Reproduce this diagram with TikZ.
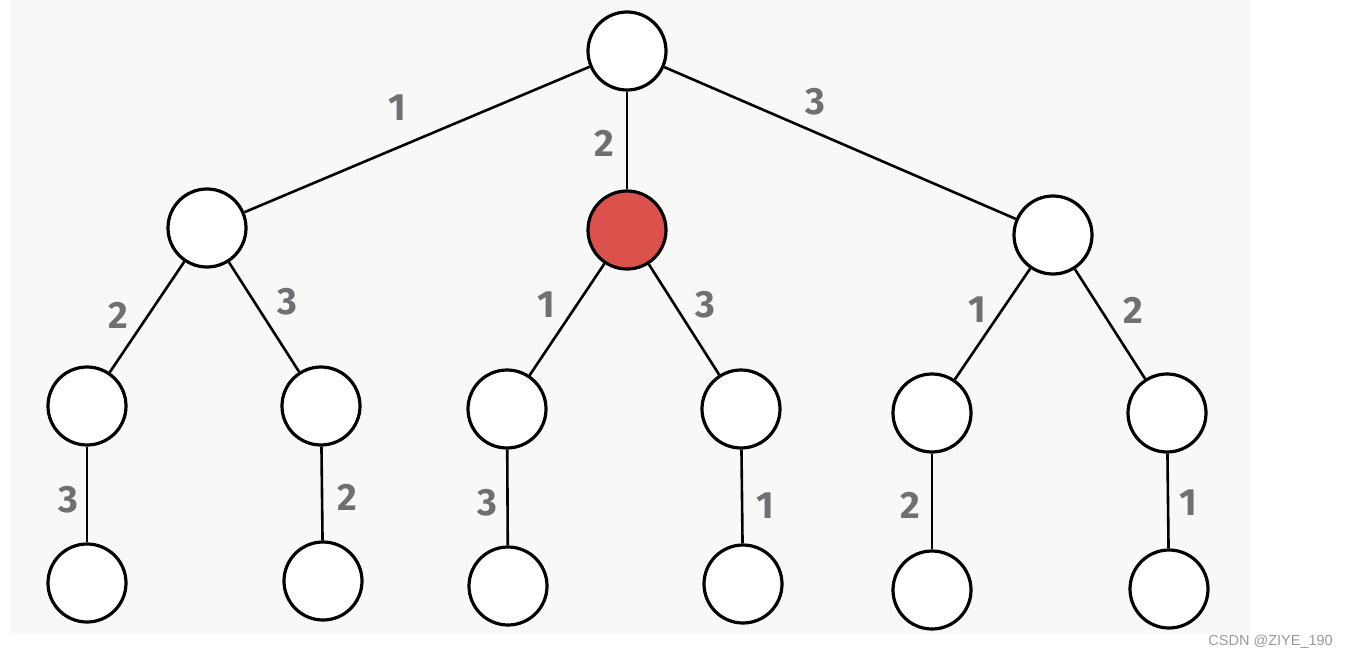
\documentclass[tikz,border=0pt]{standalone}
\usepackage{fontspec}
\setmainfont{Fira Sans}
\newfontfamily\wmfont{Liberation Sans}
\definecolor{paper}{HTML}{F8F8F6}
\definecolor{nodered}{HTML}{DB524C}
\definecolor{lblgray}{HTML}{6E7072}
\definecolor{wmgray}{HTML}{9A9A9A}
\tikzset{
  tn/.style={circle, draw=black, line width=3.2pt, fill=white, minimum size=78pt, inner sep=0pt},
  redn/.style={tn, fill=nodered},
  edge/.style={line width=2.6pt, draw=black},
  lbl/.style={text=lblgray, font=\fontsize{38}{38}\selectfont\bfseries, inner sep=0pt},
}
\begin{document}
\begin{tikzpicture}[x=1pt,y=-1pt]
\useasboundingbox (0,0) rectangle (1347,658);
\fill[white] (0,0) rectangle (1347,658);
\fill[paper] (10,0) rectangle (1250,634);
% nodes
\node[tn] (r) at (627,51) {};
\node[tn] (a) at (207,228) {};
\node[redn] (b) at (627,230) {};
\node[tn] (c) at (1053,235) {};
\node[tn] (a1) at (87,406) {};
\node[tn] (a2) at (321,406) {};
\node[tn] (b1) at (507,409) {};
\node[tn] (b2) at (741,409) {};
\node[tn] (c1) at (932,413) {};
\node[tn] (c2) at (1167,413) {};
\node[tn] (a11) at (87,583) {};
\node[tn] (a21) at (323,581) {};
\node[tn] (b11) at (508,586) {};
\node[tn] (b21) at (743,584) {};
\node[tn] (c11) at (932,590) {};
\node[tn] (c21) at (1169,589) {};
% edges
\draw[edge] (r) -- (a);
\draw[edge] (r) -- (b);
\draw[edge] (r) -- (c);
\draw[edge] (a) -- (a1);
\draw[edge] (a) -- (a2);
\draw[edge] (b) -- (b1);
\draw[edge] (b) -- (b2);
\draw[edge] (c) -- (c1);
\draw[edge] (c) -- (c2);
\draw[edge] (a1) -- (a11);
\draw[edge] (a2) -- (a21);
\draw[edge] (b1) -- (b11);
\draw[edge] (b2) -- (b21);
\draw[edge] (c1) -- (c11);
\draw[edge] (c2) -- (c21);
% labels
\node[lbl] (l1) at (397,108) {1};
\node[lbl] (l2) at (604,143) {2};
\node[lbl] (l3) at (815,102) {3};
\node[lbl] (l4) at (118,315) {2};
\node[lbl] (l5) at (287,302) {3};
\node[lbl] (l6) at (546,305) {1};
\node[lbl] (l7) at (705,305) {3};
\node[lbl] (l8) at (977,310) {1};
\node[lbl] (l9) at (1133,310) {2};
\node[lbl] (l10) at (68,500) {3};
\node[lbl] (l11) at (347,497) {2};
\node[lbl] (l12) at (487,503) {3};
\node[lbl] (l13) at (765,506) {1};
\node[lbl] (l14) at (910,505) {2};
\node[lbl] (l15) at (1188,503) {1};
\node[text=wmgray, font=\wmfont\fontsize{14.5}{14.5}\selectfont, anchor=east, inner sep=0pt] (wm) at (1333,642) {CSDN @ZIYE\_190};
\end{tikzpicture}
\end{document}
